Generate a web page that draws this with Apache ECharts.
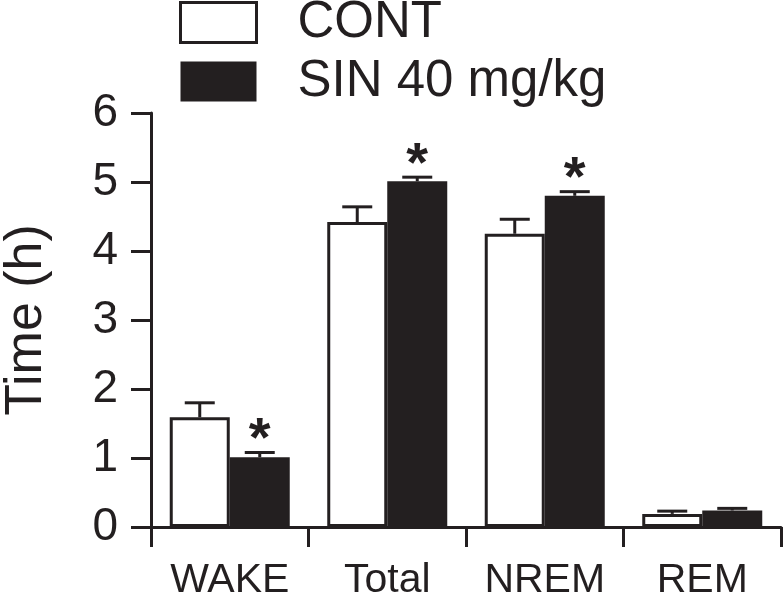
<!DOCTYPE html>
<html>
<head>
<meta charset="utf-8">
<script src="https://cdn.jsdelivr.net/npm/echarts@6/dist/echarts.min.js"></script>
<style>
html,body{margin:0;padding:0;background:#fff;}
#chart{width:784px;height:595px;}
</style>
</head>
<body>
<div id="chart"></div>
<script>
var categories = ['WAKE', 'Total', 'NREM', 'REM'];
var seriesNames = ['CONT', 'SIN 40 mg/kg'];
var contMean = [1.59, 4.42, 4.25, 0.19];
var contSem = [0.21, 0.22, 0.21, 0.04];
var sinMean = [1.01, 5.01, 4.80, 0.24];
var sinSem = [0.07, 0.06, 0.06, 0.03];
var sinSignificant = [1, 1, 1, 0];
var yTicks = [0, 1, 2, 3, 4, 5, 6];

var INK = '#231f20';
var FONT = '"Liberation Sans", Arial, Helvetica, sans-serif';
var BAR_W = 60;

function errData(mean, sem) {
  return categories.map(function (c, i) { return [i, mean[i], mean[i] + sem[i]]; });
}
function errRender(offset) {
  return function (params, api) {
    var x = api.value(0);
    var base = api.coord([x, api.value(1)]);
    var top = api.coord([x, api.value(2)]);
    var cx = base[0] + offset;
    var style = { stroke: INK, lineWidth: 3 };
    return {
      type: 'group',
      children: [
        { type: 'line', shape: { x1: cx, y1: base[1], x2: cx, y2: top[1] }, style: style },
        { type: 'line', shape: { x1: cx - 15, y1: top[1], x2: cx + 15, y2: top[1] }, style: style }
      ]
    };
  };
}
function starData() {
  var out = [];
  categories.forEach(function (c, i) {
    if (sinSignificant[i]) out.push([i, sinMean[i] + sinSem[i]]);
  });
  return out;
}

var chart = echarts.init(document.getElementById('chart'), null, { renderer: 'canvas' });
chart.setOption({
  animation: false,
  backgroundColor: '#fff',
  textStyle: { fontFamily: FONT, color: INK },
  grid: { left: 151, right: 3, top: 113, bottom: 68, containLabel: false, outerBoundsMode: 'none' },
  legend: {
    orient: 'vertical',
    left: 179,
    top: -3,
    padding: 0,
    itemWidth: 76,
    itemHeight: 40,
    itemGap: 8,
    icon: 'rect',
    selectedMode: false,
    textStyle: { fontFamily: FONT, fontSize: 51, color: INK, padding: [6, 0, 0, 36], lineHeight: 36 },
    data: [
      { name: seriesNames[0], itemStyle: { color: '#fff', borderColor: INK, borderWidth: 3 } },
      { name: seriesNames[1], itemStyle: { color: INK, borderColor: INK, borderWidth: 0 } }
    ]
  },
  xAxis: {
    type: 'category',
    data: categories,
    boundaryGap: true,
    axisLine: { lineStyle: { color: INK, width: 3 } },
    axisTick: { show: true, length: 20, inside: false, lineStyle: { color: INK, width: 3 } },
    axisLabel: { fontFamily: FONT, fontSize: 41, color: INK, margin: 33 },
    splitLine: { show: false }
  },
  yAxis: {
    type: 'value',
    min: yTicks[0],
    max: yTicks[yTicks.length - 1],
    interval: 1,
    name: 'Time (h)',
    nameLocation: 'middle',
    nameGap: 98,
    nameTextStyle: { fontFamily: FONT, fontSize: 52, color: INK },
    axisLine: { show: true, lineStyle: { color: INK, width: 3 } },
    axisTick: { show: true, length: 20, lineStyle: { color: INK, width: 3 } },
    axisLabel: { fontFamily: FONT, fontSize: 46, color: INK, margin: 33 },
    splitLine: { show: false }
  },
  series: [
    {
      name: seriesNames[0], type: 'bar', data: contMean, barWidth: BAR_W, barGap: '0%',
      itemStyle: { color: '#fff', borderColor: INK, borderWidth: 3 }, z: 2
    },
    {
      name: seriesNames[1], type: 'bar', data: sinMean, barWidth: BAR_W, barGap: '0%',
      itemStyle: { color: INK, borderColor: INK, borderWidth: 0 }, z: 2
    },
    {
      type: 'custom', name: 'contErr', data: errData(contMean, contSem),
      renderItem: errRender(-BAR_W / 2), z: 3, silent: true
    },
    {
      type: 'custom', name: 'sinErr', data: errData(sinMean, sinSem),
      renderItem: errRender(BAR_W / 2), z: 3, silent: true
    },
    {
      type: 'custom', name: 'stars', data: starData(), z: 4, silent: true,
      renderItem: function (params, api) {
        var p = api.coord([api.value(0), api.value(1)]);
        return {
          type: 'text',
          style: {
            text: '*', x: p[0] + BAR_W / 2, y: p[1] - 12,
            fontFamily: FONT, fontSize: 56, fontWeight: 'bold', fill: INK,
            align: 'center', verticalAlign: 'middle'
          }
        };
      }
    }
  ]
});
</script>
</body>
</html>
